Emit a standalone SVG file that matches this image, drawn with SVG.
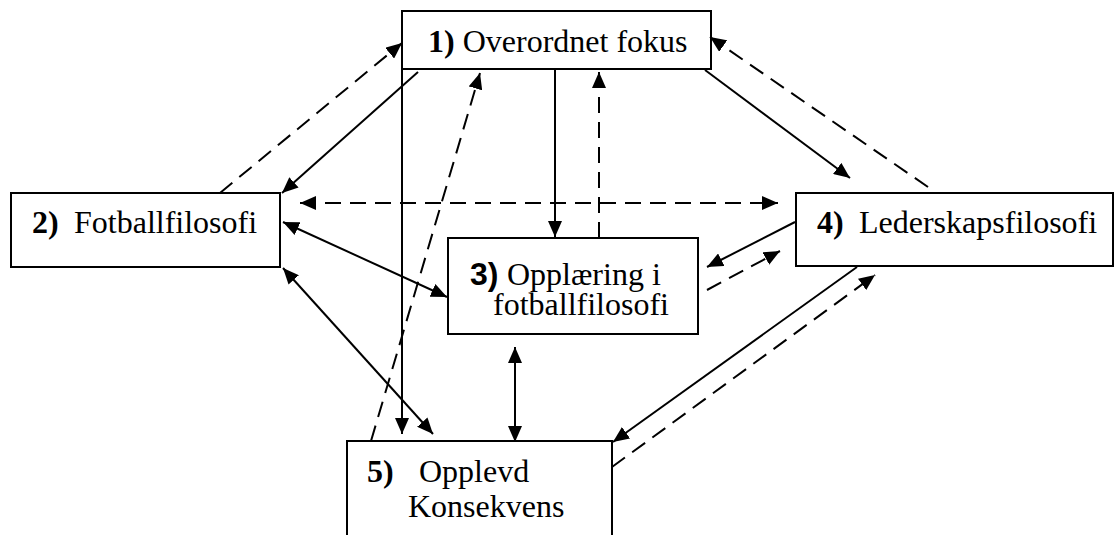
<svg xmlns="http://www.w3.org/2000/svg" width="1115" height="535" viewBox="0 0 1115 535">
<style>
.box{fill:#fff;stroke:#000;stroke-width:2}
.t{font-family:"Liberation Serif","Times New Roman",serif;font-size:32px;fill:#000}
.b{font-weight:bold}
.s{font-family:"Liberation Sans",Arial,sans-serif;font-weight:bold}
.c line{stroke:#000;stroke-width:2;fill:none}
.d{stroke-dasharray:16 9}
.e{marker-end:url(#ah)}
.dbl{marker-start:url(#ah);marker-end:url(#ah)}
</style>
<defs>
<marker id="ah" markerUnits="userSpaceOnUse" markerWidth="16" markerHeight="14" refX="16" refY="7" orient="auto-start-reverse">
<path d="M0,0 L16,7 L0,14 z" fill="#000"/>
</marker>
</defs>
<rect width="1115" height="535" fill="#fff"/>
<g id="n1"><rect class="box" x="402" y="11" width="309" height="58"/>
<text class="t" x="428" y="52"><tspan class="b">1)</tspan> Overordnet fokus</text></g>
<g id="n2"><rect class="box" x="11" y="193" width="269" height="74"/>
<text class="t" y="233"><tspan class="b" x="32">2)</tspan><tspan x="74">Fotballfilosofi</tspan></text></g>
<g id="n3"><rect class="box" x="448" y="238" width="250" height="96"/>
<text class="t" y="285"><tspan class="s" x="470">3)</tspan><tspan x="507">Opplæring i</tspan></text>
<text class="t" x="493" y="315">fotballfilosofi</text></g>
<g id="n4"><rect class="box" x="796" y="193" width="317" height="73"/>
<text class="t" y="233"><tspan class="b" x="817">4)</tspan><tspan x="859">Lederskapsfilosofi</tspan></text></g>
<g id="n5"><rect class="box" x="347" y="441" width="265" height="120"/>
<text class="t" y="482"><tspan class="b" x="367">5)</tspan><tspan x="419">Opplevd</tspan></text>
<text class="t" x="408" y="517">Konsekvens</text></g>
<g id="connectors" class="c">
<line class="d e" x1="220" y1="193" x2="402" y2="43"/>
<line class="e" x1="418" y1="72" x2="282" y2="193"/>
<line class="d dbl" x1="300" y1="203" x2="778" y2="203"/>
<line class="e" x1="402" y1="69" x2="402" y2="434"/>
<line class="d e" x1="371" y1="441" x2="480" y2="73"/>
<line class="e" x1="555" y1="69" x2="555" y2="237"/>
<line class="d e" x1="599" y1="238" x2="599" y2="72"/>
<line class="e" x1="705" y1="70" x2="850" y2="178"/>
<line class="d e" x1="928" y1="187" x2="710" y2="37"/>
<line class="dbl" x1="283" y1="222" x2="447" y2="297"/>
<line class="dbl" x1="283" y1="268" x2="433" y2="434"/>
<line class="e" x1="795" y1="222" x2="707" y2="267"/>
<line class="d e" x1="707" y1="290" x2="780" y2="251"/>
<line class="dbl" x1="515" y1="347" x2="515" y2="442"/>
<line class="e" x1="857" y1="267" x2="613" y2="442"/>
<line class="d e" x1="612" y1="467" x2="875" y2="275"/>
</g>
</svg>
